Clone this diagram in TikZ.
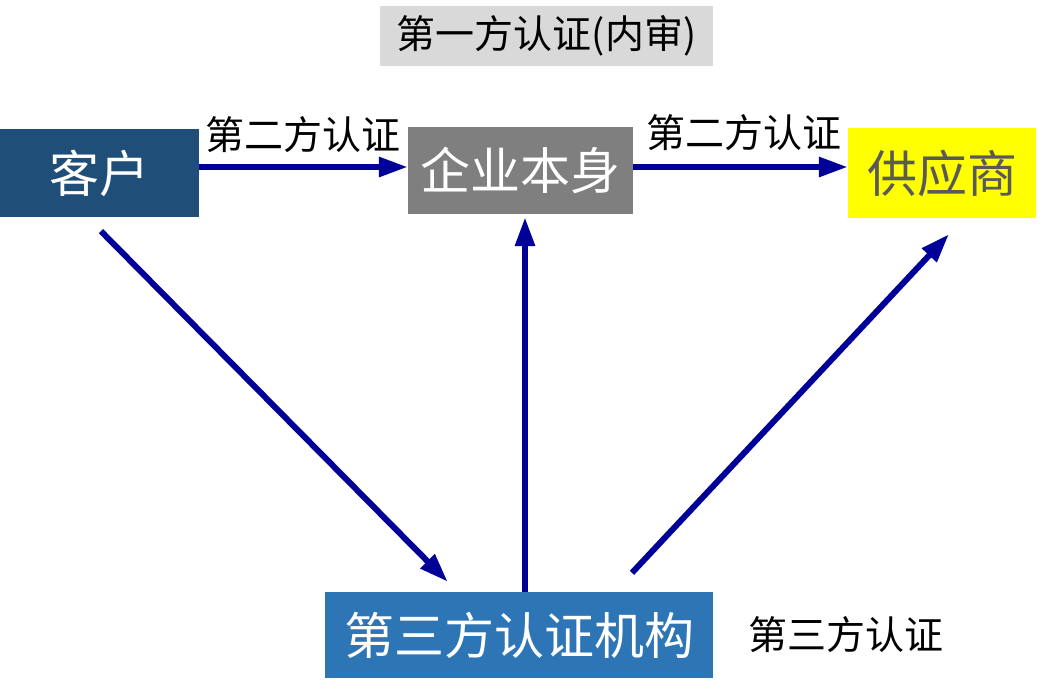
\documentclass[tikz,border=0pt]{standalone}
\usepackage{fontspec}
\setmainfont{Noto Sans CJK SC}
\usetikzlibrary{arrows.meta,calc}
\definecolor{kehuC}{HTML}{1F4E79}
\definecolor{qiyeC}{HTML}{7F7F7F}
\definecolor{gysC}{HTML}{FFFF00}
\definecolor{gysT}{HTML}{595959}
\definecolor{jgC}{HTML}{2E75B6}
\definecolor{lblC}{HTML}{D9D9D9}
\definecolor{arrC}{HTML}{000099}
\begin{document}
\begin{tikzpicture}[x=1pt,y=-1pt,
 box/.style={inner sep=0pt, font=\fontsize{50}{50}\selectfont, text=white},
 lbl/.style={inner sep=0pt, font=\fontsize{39}{39}\selectfont, text=black},
 arr/.style={draw=arrC, line width=6pt, -{Triangle[length=29pt,width=19pt]}}]
\useasboundingbox[fill=white] (0,0) rectangle (1049,696);
\node[box, fill=kehuC, minimum width=199pt, minimum height=88pt] (kehu) at (99.5,173) {客户};
\node[box, fill=qiyeC, minimum width=225pt, minimum height=87pt] (qiye) at (520.5,170.5) {企业本身};
\node[box, fill=gysC, text=gysT, minimum width=188pt, minimum height=90pt] (gys) at (942,173) {供应商};
\node[box, fill=jgC, minimum width=388pt, minimum height=86pt] (jigou) at (519,635) {第三方认证机构};
\node[lbl, fill=lblC, minimum width=333pt, minimum height=60pt] (first) at (546.5,36) {第一方认证(内审)};
\node[lbl] (sec1) at (303,135) {第二方认证};
\node[lbl] (sec2) at (744,133) {第二方认证};
\node[lbl] (third) at (846,635) {第三方认证};
\draw[arr] ([yshift=6pt]kehu.east) -- ([yshift=3.5pt]qiye.west);
\draw[arr] ([yshift=3.5pt]qiye.east) -- ([yshift=6pt]gys.west);
\draw[arr] ($(kehu.south)+(1.5,14)$) -- ($(jigou.north west)+(123,-10)$);
\draw[arr] ([xshift=6pt]jigou.north) -- ($(qiye.south)+(4.5,3)$);
\draw[arr] ($(jigou.north)+(113,-19)$) -- ($(gys.south)+(7,16)$);
\end{tikzpicture}
\end{document}
